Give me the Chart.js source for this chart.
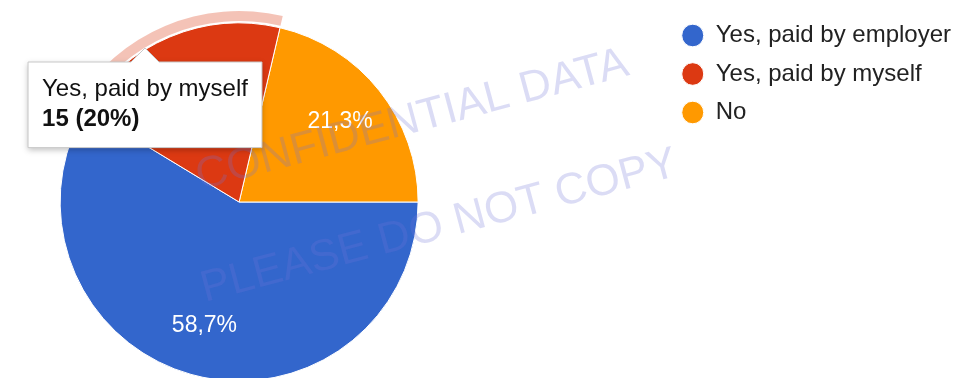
<!DOCTYPE html>
<html>
<head>
<meta charset="utf-8">
<script src="https://cdn.jsdelivr.net/npm/chart.js@4.4.0/dist/chart.umd.min.js"></script>
<style>
  html, body { margin: 0; padding: 0; background: #fff; overflow: hidden; }
  #wrap { position: relative; width: 974px; height: 378px; overflow: hidden; }
  #insuranceChart { position: absolute; left: -200px; top: 0; }
</style>
</head>
<body>
<div id="wrap"><canvas id="insuranceChart" width="1174" height="404"></canvas></div>
<script>
const categories = ["Yes, paid by employer", "Yes, paid by myself", "No"];
const responses = [44, 15, 16];
const sliceColors = ["#3366cc", "#dc3912", "#ff9900"];
const watermarkLines = ["CONFIDENTIAL DATA", "PLEASE DO NOT COPY"];
const hoveredSlice = 1;

const FONT = "'Liberation Sans', Arial, sans-serif";
const total = responses.reduce((a, b) => a + b, 0);
const percentText = v => String(Math.round(v / total * 1000) / 10).replace(".", ",") + "%";

// tooltip sits where the pointer is
Chart.Tooltip.positioners.pointer = function (items, eventPosition) {
  return eventPosition;
};

const sliceLabels = {
  id: "sliceLabels",
  afterDatasetsDraw(chart) {
    const ctx = chart.ctx;
    const meta = chart.getDatasetMeta(0);
    ctx.save();
    ctx.font = "23px " + FONT;
    ctx.fillStyle = "#fff";
    ctx.textAlign = "center";
    ctx.textBaseline = "middle";
    meta.data.forEach((arc, i) => {
      const mid = (arc.startAngle + arc.endAngle) / 2;
      const r = arc.outerRadius * 0.72;
      ctx.fillText(percentText(responses[i]), arc.x + Math.cos(mid) * r, arc.y + Math.sin(mid) * r);
    });
    ctx.restore();
  }
};

// pale ring around the hovered slice
const hoverRing = {
  id: "hoverRing",
  afterDatasetsDraw(chart) {
    const ctx = chart.ctx;
    chart.getActiveElements().forEach(a => {
      const arc = a.element;
      ctx.save();
      ctx.beginPath();
      ctx.arc(arc.x, arc.y, arc.outerRadius + 12, arc.startAngle, arc.endAngle);
      ctx.arc(arc.x, arc.y, arc.outerRadius + 2, arc.endAngle, arc.startAngle, true);
      ctx.closePath();
      ctx.fillStyle = "rgba(220, 57, 18, 0.3)";
      ctx.fill();
      ctx.restore();
    });
  }
};

function drawMark(ctx, text, x, y) {
  ctx.save();
  ctx.font = "44px " + FONT;
  ctx.fillStyle = "rgba(110, 115, 215, 0.25)";
  ctx.translate(x, y);
  ctx.rotate(-15 * Math.PI / 180);
  ctx.fillText(text, 0, 0);
  ctx.restore();
}

const watermark = {
  id: "watermark",
  beforeTooltipDraw(chart, args) {
    const ctx = chart.ctx;
    drawMark(ctx, watermarkLines[0], 400, 190);
    drawMark(ctx, watermarkLines[1], 405, 302);

    // soft shadow under the tooltip box
    const tip = args.tooltip;
    ctx.save();
    ctx.shadowColor = "rgba(0, 0, 0, 0.25)";
    ctx.shadowBlur = 6;
    ctx.shadowOffsetY = 2;
    ctx.fillStyle = "#fff";
    ctx.fillRect(tip.x, tip.y, tip.width, tip.height);
    ctx.restore();
  }
};

const chart = new Chart(document.getElementById("insuranceChart"), {
  type: "pie",
  data: {
    labels: categories,
    datasets: [{
      data: responses,
      backgroundColor: sliceColors,
      hoverBackgroundColor: sliceColors,
      borderColor: "#fff",
      hoverBorderColor: "#fff",
      borderWidth: 1,
      hoverBorderWidth: 1,
      hoverOffset: 0,
      radius: 179
    }]
  },
  options: {
    responsive: false,
    maintainAspectRatio: false,
    animation: false,
    rotation: 90,
    events: [],
    layout: { padding: { left: 11, right: 13, top: 9, bottom: 9 } },
    plugins: {
      legend: {
        position: "right",
        align: "start",
        labels: {
          usePointStyle: true,
          pointStyle: "circle",
          pointStyleWidth: 22,
          boxHeight: 16,
          padding: 14.5,
          color: "#222",
          font: { family: FONT, size: 24 }
        }
      },
      tooltip: {
        enabled: true,
        position: "pointer",
        xAlign: "center",
        yAlign: "top",
        animation: false,
        backgroundColor: "#fff",
        borderColor: "#c8c8c8",
        borderWidth: 1,
        cornerRadius: 0,
        caretSize: 14,
        caretPadding: 0,
        displayColors: false,
        padding: { top: 13, bottom: 14, left: 14, right: 14 },
        titleMarginBottom: 1,
        titleColor: "#111",
        bodyColor: "#111",
        titleFont: { family: FONT, size: 24, weight: "normal" },
        bodyFont: { family: FONT, size: 24, weight: "bold" },
        callbacks: {
          title: items => items[0].label,
          label: item => item.raw + " (" + percentText(item.raw) + ")"
        }
      }
    }
  },
  plugins: [sliceLabels, hoverRing, watermark]
});

const active = [{ datasetIndex: 0, index: hoveredSlice }];
chart.setActiveElements(active);
chart.tooltip.setActiveElements(active, { x: 345, y: 48 });
chart.update();
</script>
</body>
</html>
